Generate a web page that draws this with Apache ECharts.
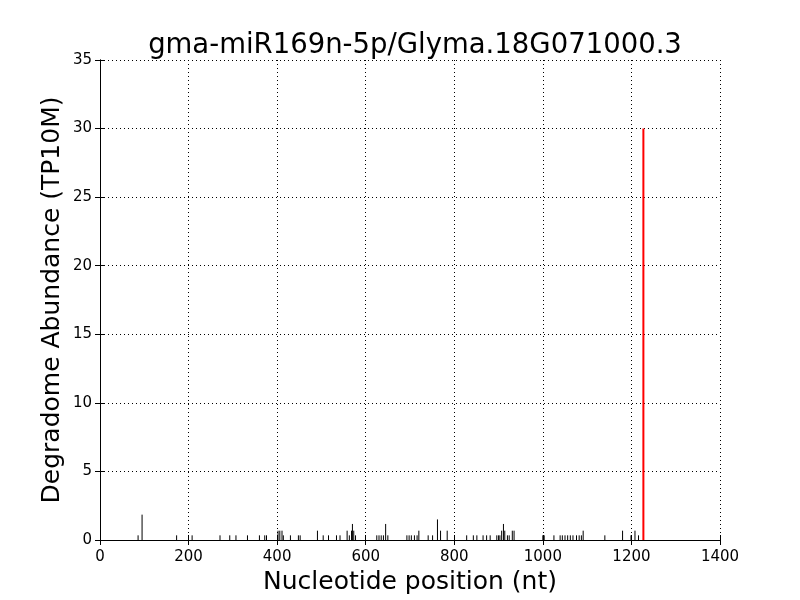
<!DOCTYPE html>
<html><head><meta charset="utf-8">
<script src="https://cdn.jsdelivr.net/npm/echarts@6/dist/echarts.min.js"></script>
<style>html,body{margin:0;padding:0;background:#fff}#c{width:800px;height:600px}</style>
</head><body><div id="c"></div>
<script>
const titleText = "gma-miR169n-5p/Glyma.18G071000.3";
const positions = [86,95,173,208,271,293,307,333,360,372,376,402,406,411,414,430,448,452,491,504,516,534,542,558,563,568,570,573,577,625,630,635,640,645,650,693,698,703,710,716,720,741,751,762,769,784,828,843,851,865,873,881,896,900,903,907,911,914,920,924,931,935,1000,1003,1025,1039,1044,1050,1056,1062,1068,1076,1082,1087,1091,1140,1180,1199,1208,1216];
const abundance = [0.34,1.85,0.34,0.34,0.34,0.34,0.34,0.34,0.34,0.34,0.34,0.68,0.68,0.68,0.34,0.34,0.34,0.34,0.68,0.34,0.34,0.34,0.34,0.68,0.34,0.68,1.17,0.68,0.34,0.34,0.34,0.34,0.34,1.17,0.34,0.34,0.34,0.34,0.34,0.34,0.68,0.34,0.34,1.5,0.68,0.68,0.34,0.34,0.34,0.34,0.34,0.34,0.34,0.34,0.34,0.68,1.17,0.68,0.34,0.34,0.68,0.68,0.34,0.34,0.34,0.34,0.34,0.34,0.34,0.34,0.34,0.34,0.34,0.34,0.68,0.34,0.68,0.34,0.68,0.34];
const targetPositions = [1227];
const targetAbundance = [30];
const xTicks = [0,200,400,600,800,1000,1200,1400];
const yTicks = [0,5,10,15,20,25,30,35];

const font = "DejaVu Sans";
const chart = echarts.init(document.getElementById('c'));
function stick(color, width) {
  return function (params, api) {
    const p0 = api.coord([api.value(0), 0]);
    const p1 = api.coord([api.value(0), api.value(1)]);
    return { type: 'line', shape: { x1: p0[0], y1: p0[1], x2: p1[0], y2: p1[1] },
      style: { stroke: color, lineWidth: width } };
  };
}
const axisCommon = {
  axisLine: { show: true, lineStyle: { color: '#000', width: 1 } },
  axisTick: { show: true, inside: true, length: 5, lineStyle: { color: '#000' } },
};
chart.setOption({
  animation: false,
  title: { text: titleText, left: 410, textAlign: 'center', top: 27, textStyle: { fontFamily: font, fontSize: 27.5, fontWeight: 'normal', color: '#000' } },
  grid: { left: 100, right: 80, top: 60, bottom: 60, show: false },
  xAxis: [
    Object.assign({ type: 'value', min: 0, max: 1400, interval: 200, position: 'bottom',
      name: 'Nucleotide position (nt)', nameLocation: 'middle', nameGap: 30, nameMoveOverlap: false,
      nameTextStyle: { fontFamily: font, fontSize: 25, color: '#000' },
      axisLabel: { fontFamily: font, fontSize: 15, color: '#000', margin: 10, formatter: v => String(v) },
      splitLine: { show: true, lineStyle: { color: '#000', type: [1, 3], width: 1 } } }, axisCommon),
    Object.assign({ type: 'value', min: 0, max: 1400, interval: 200, position: 'top',
      axisLabel: { show: false }, splitLine: { show: false } }, axisCommon)
  ],
  yAxis: [
    Object.assign({ type: 'value', min: 0, max: 35, interval: 5, position: 'left',
      name: 'Degradome Abundance (TP10M)', nameLocation: 'middle', nameGap: 35, nameMoveOverlap: false,
      nameTextStyle: { fontFamily: font, fontSize: 25, color: '#000' },
      axisLabel: { fontFamily: font, fontSize: 15, color: '#000', margin: 8, formatter: v => String(v) },
      splitLine: { show: true, lineStyle: { color: '#000', type: [1, 3], width: 1 } } }, axisCommon),
    Object.assign({ type: 'value', min: 0, max: 35, interval: 5, position: 'right',
      axisLabel: { show: false }, splitLine: { show: false } }, axisCommon)
  ],
  series: [
    { type: 'custom', xAxisIndex: 0, yAxisIndex: 0, renderItem: stick('#000', 1),
      data: positions.map((p, i) => [p, abundance[i]]) },
    { type: 'custom', xAxisIndex: 0, yAxisIndex: 0, renderItem: stick('#ff0000', 2),
      data: targetPositions.map((p, i) => [p, targetAbundance[i]]) }
  ]
});
</script>
</body></html>
